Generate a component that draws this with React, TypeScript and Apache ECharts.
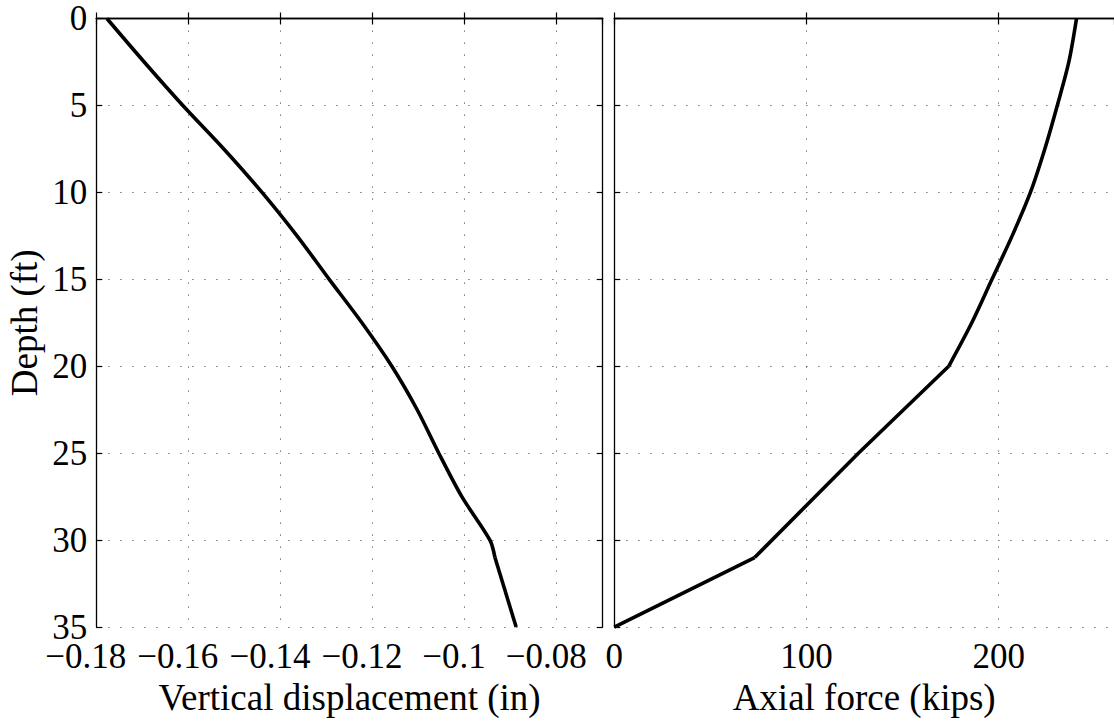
import React, { useEffect, useRef } from "react";
import * as echarts from "echarts";

const depthTicks = [0, 5, 10, 15, 20, 25, 30, 35];
const dispTicks = [-0.18, -0.16, -0.14, -0.12, -0.1, -0.08];
const forceTicks = [0, 100, 200];

const depthDisp = [0, 2.5, 5, 7.5, 10, 12.5, 15, 17.5, 20, 22.5, 25, 27.5, 30, 31, 35];
const dispValues = [-0.1777, -0.1696, -0.1612, -0.1523, -0.144, -0.1364, -0.1294, -0.1223, -0.1158, -0.1103, -0.1056, -0.1006, -0.0945, -0.0934, -0.0888];
const dispBreaks = [31];

const depthForce = [0, 2.5, 5, 7.5, 10, 12.5, 15, 17.5, 20, 25, 31, 35];
const forceValues = [240.5, 236.5, 230.5, 224, 216.5, 207, 196.5, 186, 174, 127, 73, 0];
const forceBreaks = [20, 31];

const FONT = "'Liberation Serif', 'Times New Roman', serif";

export default function App() {
  const ref = useRef<HTMLDivElement>(null);
  useEffect(() => {
    if (!ref.current) return;
    const chart = echarts.init(ref.current, null, { renderer: "svg" });
    const axisLine = { show: true, lineStyle: { color: "#000", width: 1.3 } };
    const tick = { show: true, inside: true, length: 6, lineStyle: { color: "#000", width: 1.2 } };
    const grid = { show: true, lineStyle: { color: "#555", width: 1, type: [1.2, 10.8] as any } };
    const fmtDisp = (v: number) => {
      const r = Number(v.toFixed(2));
      return dispTicks.includes(r) ? String(r).replace("-", "\u2212") : "";
    };
    const fmtForce = (v: number) => (forceTicks.includes(Math.round(v)) ? String(Math.round(v)) : "");
    const fmtDepth = (v: number) => (depthTicks.includes(Math.round(v)) ? String(Math.round(v)) : "");

    const lineStyle = { color: "#000", width: 3.6 };
    // split a curve into pieces at its break depths; first piece smoothed, others straight
    const pieces = (xs: number[], ds: number[], breaks: number[], xIdx: number, yIdx: number) => {
      const bounds = [ds[0], ...breaks, ds[ds.length - 1]];
      const out: any[] = [];
      for (let k = 0; k < bounds.length - 1; k++) {
        const lo = bounds[k];
        const hi = bounds[k + 1];
        const data = ds
          .map((d, i) => [xs[i], d])
          .filter((q) => q[1] >= lo && q[1] <= hi);
        out.push({
          type: "line", xAxisIndex: xIdx, yAxisIndex: yIdx, showSymbol: false, symbol: "none",
          smooth: k === 0 ? 0.3 : false, lineStyle, data,
        });
      }
      return out;
    };

    const tickFont = 35;
    const nameFont = 37;

    chart.setOption({
      animation: false,
      backgroundColor: "#fff",
      textStyle: { fontFamily: FONT },
      grid: [
        { left: 96.3, top: 18.5, width: 506.4, height: 613.9 },
        { left: 614.3, top: 18.5, width: 507, height: 613.9 },
      ],
      xAxis: [
        {
          gridIndex: 0, type: "value", position: "bottom", min: -0.18, max: -0.07, interval: 0.02,
          axisLine, axisTick: tick, splitLine: grid,
          axisLabel: { formatter: fmtDisp, showMaxLabel: false, color: "#000", fontSize: tickFont, fontFamily: FONT, margin: 12, padding: [0, 21, 0, 0] },
          name: "Vertical displacement (in)", nameLocation: "middle", nameGap: 44,
          nameTextStyle: { color: "#000", fontSize: nameFont, fontFamily: FONT },
        },
        {
          gridIndex: 0, type: "value", position: "top", min: -0.18, max: -0.07, interval: 0.02,
          axisLine, axisTick: tick, splitLine: { show: false }, axisLabel: { show: false },
        },
        {
          gridIndex: 1, type: "value", position: "bottom", min: 0, max: 260, interval: 100,
          axisLine, axisTick: tick, splitLine: grid,
          axisLabel: { formatter: fmtForce, showMaxLabel: false, color: "#000", fontSize: tickFont, fontFamily: FONT, margin: 12 },
          name: "Axial force (kips)", nameLocation: "middle", nameGap: 44,
          nameTextStyle: { color: "#000", fontSize: nameFont, fontFamily: FONT },
        },
        {
          gridIndex: 1, type: "value", position: "top", min: 0, max: 260, interval: 100,
          axisLine, axisTick: tick, splitLine: { show: false }, axisLabel: { show: false },
        },
      ],
      yAxis: [
        {
          gridIndex: 0, type: "value", position: "left", inverse: true, min: 0, max: 35, interval: 5,
          axisLine, axisTick: tick, splitLine: grid,
          axisLabel: { formatter: fmtDepth, color: "#000", fontSize: tickFont, fontFamily: FONT, margin: 9 },
          name: "Depth (ft)", nameLocation: "middle", nameGap: 53, nameRotate: 90,
          nameTextStyle: { color: "#000", fontSize: nameFont, fontFamily: FONT },
        },
        {
          gridIndex: 0, type: "value", position: "right", inverse: true, min: 0, max: 35, interval: 5,
          axisLine, axisTick: tick, splitLine: { show: false }, axisLabel: { show: false },
        },
        {
          gridIndex: 1, type: "value", position: "left", inverse: true, min: 0, max: 35, interval: 5,
          axisLine, axisTick: tick, splitLine: grid, axisLabel: { show: false },
        },
      ],
      series: [
        ...pieces(dispValues, depthDisp, dispBreaks, 0, 0),
        ...pieces(forceValues, depthForce, forceBreaks, 2, 2),
      ],
    });
    return () => chart.dispose();
  }, []);
  return (
    <div
      ref={ref}
      style={{ position: "absolute", left: 0, top: 0, width: 1114, height: 721, background: "#fff" }}
    />
  );
}
